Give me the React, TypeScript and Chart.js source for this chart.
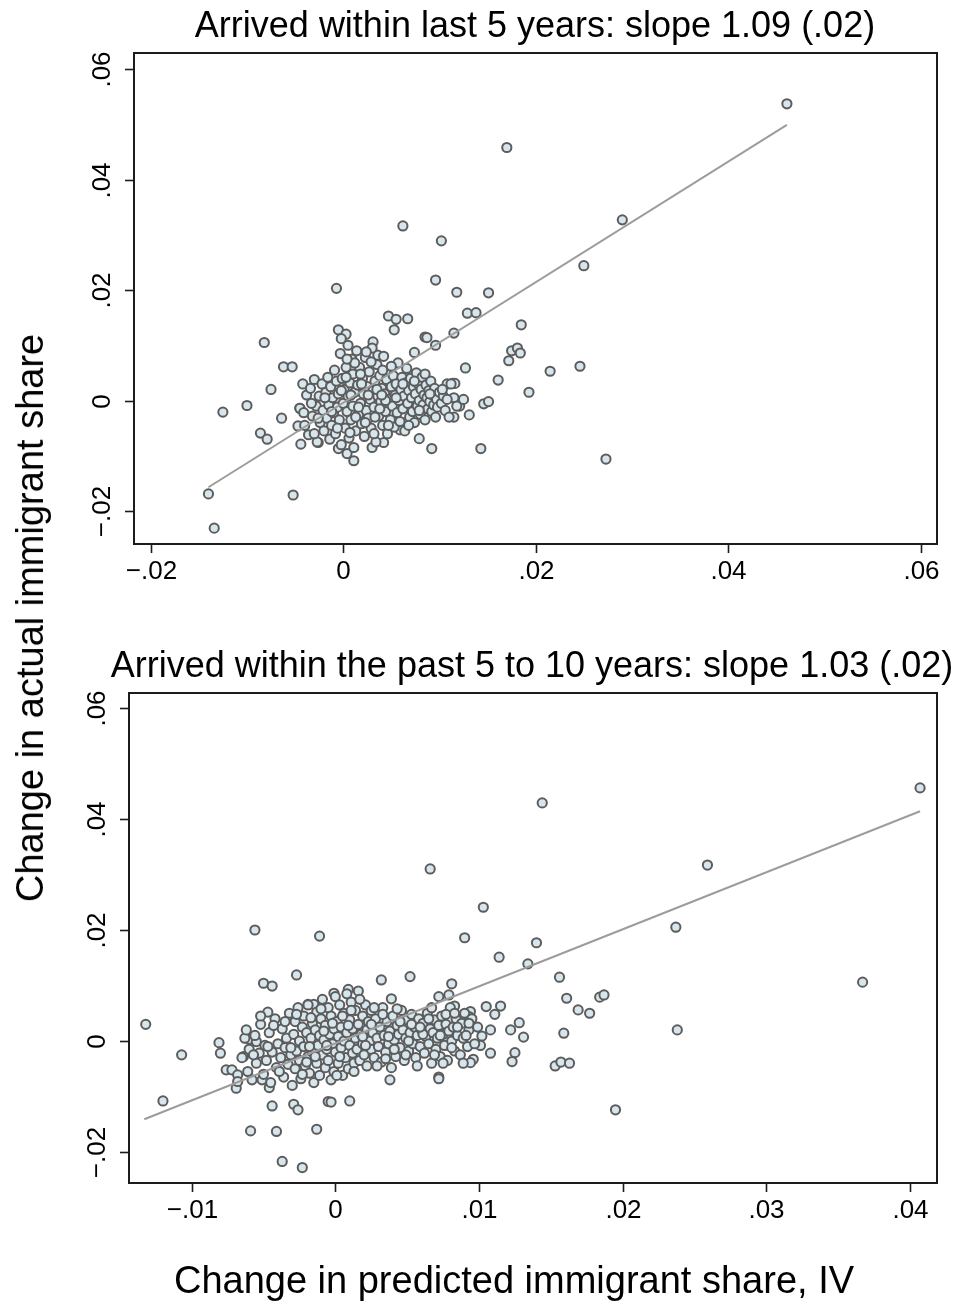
import React, { useEffect, useRef } from "react";
import { Chart, registerables } from "chart.js";
Chart.register(...registerables);

// ---------- DATA ----------
const recentTitle = "Arrived within last 5 years: slope 1.09 (.02)";
const earlierTitle = "Arrived within the past 5 to 10 years: slope 1.03 (.02)";
const yAxisTitle = "Change in actual immigrant share";
const xAxisTitle = "Change in predicted immigrant share, IV";

const recentXTicks = [-0.02, 0, 0.02, 0.04, 0.06];
const recentYTicks = [-0.02, 0, 0.02, 0.04, 0.06];
const earlierXTicks = [-0.01, 0, 0.01, 0.02, 0.03, 0.04];
const earlierYTicks = [-0.02, 0, 0.02, 0.04, 0.06];

const recentFitX = [-0.014, 0.0461];
const recentFitY = [-0.0157, 0.0499];
const earlierFitX = [-0.0133, 0.0407];
const earlierFitY = [-0.0141, 0.0414];

// Arrived within last 5 years: [predicted change, actual change]
const recentOutliers: [number, number][] = [
  [0.0461, 0.0537], [0.017, 0.0458], [0.029, 0.0327], [0.0062, 0.0316], [0.0102, 0.0289],
  [0.025, 0.0244], [0.0096, 0.0218], [-0.0007, 0.0203], [0.0118, 0.0196], [0.0151, 0.0195],
  [0.0129, 0.0158], [0.0138, 0.0159], [0.0185, 0.0137], [0.0047, 0.0153], [0.0055, 0.0147],
  [0.0067, 0.0148], [0.0053, 0.0128], [-0.0082, 0.0105], [-0.0005, 0.0128], [0.0003, 0.012],
  [-0.0002, 0.0112], [0.0031, 0.0106], [0.0036, 0.0082], [0.0115, 0.0122], [0.0085, 0.0115],
  [0.0087, 0.0114], [0.0096, 0.01], [0.0074, 0.0087], [0.0172, 0.0072], [0.0175, 0.009],
  [0.0181, 0.0095], [0.0184, 0.0086], [0.0127, 0.0059], [0.0114, 0.0031], [0.0116, 0.0031],
  [0.0161, 0.0037], [0.0246, 0.0062], [0.0215, 0.0053], [0.0193, 0.0015], [0.0121, -0.001],
  [0.0125, 0.0002], [0.0146, -0.0006], [0.0151, -0.0002], [0.0115, -0.003], [0.0131, -0.0026],
  [0.0143, -0.0087], [0.0092, -0.0087], [0.0079, -0.0069], [0.0059, -0.0053], [0.0273, -0.0106],
  [0.0011, -0.0109], [0.0004, -0.0096], [-0.0005, -0.0087], [0.003, -0.0085], [0.0042, -0.0076],
  [-0.0044, -0.0079], [-0.0026, -0.0076], [-0.0047, -0.0046], [-0.0045, -0.0014], [-0.0064, -0.0032],
  [-0.0062, 0.0061], [-0.0053, 0.0061], [-0.0075, 0.002], [-0.01, -0.0009], [-0.0125, -0.0021],
  [-0.0086, -0.0059], [-0.0079, -0.007], [-0.014, -0.0169], [-0.0134, -0.0231], [-0.0052, -0.0171],
];
const recentCluster: [number, number][] = [
  [-0.0045, -0.0014], [-0.0042, 0.003], [-0.004, -0.0045], [-0.0038, 0.001], [-0.0036, -0.0062],
  [-0.0034, 0.0022], [-0.0032, -0.0028], [-0.003, 0.0038], [-0.0028, -0.001], [-0.0027, -0.0075],
  [-0.0025, 0.0008], [-0.0024, -0.004], [-0.0022, 0.003], [-0.0021, -0.0018], [-0.002, -0.0055],
  [-0.0018, 0.0015], [-0.0017, -0.0032], [-0.0016, 0.0042], [-0.0015, -0.0008], [-0.0014, -0.007],
  [-0.0013, 0.0025], [-0.0012, -0.0045], [-0.0011, 0.0005], [-0.001, -0.0022], [-0.0009, 0.0055],
  [-0.0008, -0.006], [-0.0007, 0.0035], [-0.0006, -0.0012], [-0.0005, 0.0012], [-0.0004, -0.0035],
  [-0.0003, 0.0085], [-0.0002, -0.008], [-0.0001, 0.004], [0.0, -0.0005],
  [0.0001, 0.002], [0.0002, -0.005], [0.0003, 0.006], [0.0004, -0.002], [0.0005, 0.01],
  [0.0005, 0.0008], [0.0006, -0.0068], [0.0007, 0.0032], [0.0008, -0.0035], [0.0009, 0.0075],
  [0.001, -0.001], [0.001, 0.0048], [0.0011, -0.0085], [0.0012, 0.0015], [0.0013, -0.0055],
  [0.0014, 0.009], [0.0015, 0.0028], [0.0016, -0.0025], [0.0017, 0.006], [0.0018, -0.0005],
  [0.0019, -0.0042], [0.002, 0.004], [0.0021, 0.0012], [0.0022, -0.0065], [0.0023, 0.0078],
  [0.0024, -0.0018], [0.0025, 0.0025], [0.0026, -0.0032], [0.0027, 0.0052], [0.0028, 0.0002],
  [0.0029, -0.005], [0.003, 0.0095], [0.0031, 0.0018], [0.0032, -0.0012], [0.0033, 0.0035],
  [0.0034, -0.0075], [0.0035, 0.0065], [0.0036, 0.0008], [0.0037, -0.0028], [0.0038, 0.0045],
  [0.0039, -0.0002], [0.004, 0.0022], [0.0041, -0.0045], [0.0042, 0.008], [0.0043, 0.0012],
  [0.0044, -0.002], [0.0045, 0.0038], [0.0046, -0.006], [0.0047, 0.0002], [0.0048, 0.0055],
  [0.0049, -0.0035], [0.005, 0.0025],
  [0.0051, -0.001], [0.0052, 0.0045], [0.0053, -0.0048], [0.0054, 0.001], [0.0055, 0.003],
  [0.0056, -0.0022], [0.0057, 0.0068], [0.0058, 0.0], [0.0059, -0.0038], [0.006, 0.002],
  [0.0061, 0.0042], [0.0062, -0.0015], [0.0063, 0.0008], [0.0064, -0.0055], [0.0065, 0.0032],
  [0.0066, 0.0058], [0.0067, -0.0005], [0.0068, 0.0018], [0.0069, -0.003], [0.007, 0.004],
  [0.0071, 0.0005], [0.0072, -0.002], [0.0073, 0.0025], [0.0074, -0.004], [0.0075, 0.0012],
  [0.0076, 0.005], [0.0077, -0.001], [0.0078, 0.003], [0.0079, 0.0], [0.008, -0.0025],
  [0.0081, 0.002], [0.0082, 0.0042], [0.0083, -0.0008], [0.0084, 0.001], [0.0085, -0.0035],
  [0.0086, 0.0028], [0.0087, 0.0005], [0.0088, -0.0015], [0.0089, 0.0018], [0.009, -0.0002],
  [0.0091, 0.0035], [0.0092, -0.002], [0.0093, 0.001], [0.0094, -0.0008], [0.0095, 0.0022],
  [0.0097, 0.0002], [0.0098, -0.0012], [0.01, 0.0015], [0.0102, -0.0005], [0.0104, 0.0008],
  [0.0106, -0.0018], [0.0108, 0.003], [0.011, -0.003], [0.0112, 0.003], [0.0115, 0.0005],
  [0.0118, -0.001],
  [0.0003, 0.0042], [0.0007, -0.0058], [0.0012, 0.0068], [0.0016, -0.0012], [0.0019, 0.003],
  [0.0023, -0.004], [0.0026, 0.001], [0.0029, 0.007], [0.0032, -0.006], [0.0035, 0.002],
  [0.0038, -0.0015], [0.0041, 0.0055], [0.0044, 0.0], [0.0047, -0.0045], [0.005, 0.0062],
  [0.0013, -0.003], [0.0018, 0.0048], [0.0024, 0.0088], [0.0033, -0.003], [0.004, 0.001],
  [0.0008, 0.001], [0.0004, 0.0075], [-0.0002, 0.0018], [-0.0006, -0.005], [-0.0012, -0.002],
  [-0.0019, 0.0005], [-0.0026, -0.0032], [-0.0033, -0.0005], [-0.0041, -0.0022], [-0.003, -0.006],
  [0.0055, 0.0005], [0.0062, 0.003], [0.0068, -0.0045], [0.0074, 0.0035], [0.0079, -0.0018],
  [0.0085, 0.0048], [0.009, 0.0012], [0.0096, -0.003], [0.0103, 0.002], [0.0108, 0.0002],
];

// Arrived within the past 5 to 10 years: [predicted change, actual change]
const earlierOutliers: [number, number][] = [
  [0.0407, 0.0456], [0.0144, 0.0429], [0.0066, 0.031], [0.0259, 0.0317], [0.0103, 0.0241],
  [0.0237, 0.0205], [-0.0056, 0.02], [-0.0011, 0.0189], [0.009, 0.0186], [0.014, 0.0177],
  [0.0114, 0.0151], [0.0134, 0.0139], [0.0367, 0.0106], [0.0156, 0.0115], [0.0161, 0.0077],
  [0.0184, 0.0079], [0.0187, 0.0083], [0.0169, 0.0056], [0.0177, 0.005], [0.0238, 0.002],
  [0.0159, 0.0014], [0.0195, -0.0124], [0.0153, -0.0045], [0.0157, -0.0038], [0.0163, -0.004],
  [0.0105, 0.0062], [0.0115, 0.0063], [0.0111, 0.0048], [0.0122, 0.002], [0.0128, 0.0033],
  [0.0131, 0.0007], [0.0125, -0.0021], [0.0123, -0.0037], [0.0108, 0.002], [0.0102, 0.0009],
  [0.0101, -0.0008], [0.0108, -0.0022], [0.0094, 0.0053], [0.0093, 0.0044], [0.0096, -0.0033],
  [0.0094, -0.0039], [0.0072, -0.0065], [0.0072, -0.0068], [0.0038, -0.007], [0.0081, 0.0103],
  [0.0039, 0.0076], [0.0072, 0.008], [0.0079, 0.0083], [0.0083, 0.0063],
  [-0.005, 0.0104], [-0.0044, 0.0099], [-0.0027, 0.0119], [-0.0047, 0.0052], [-0.0132, 0.003],
  [-0.012, -0.0108], [-0.0107, -0.0025], [-0.0081, -0.0003], [-0.008, -0.0022], [-0.0076, -0.0052],
  [-0.0072, -0.0052], [-0.0068, -0.0061], [-0.0069, -0.0085], [-0.0068, -0.0073], [-0.006, 0.0003],
  [-0.0055, -0.0001], [-0.0064, -0.0028], [-0.0051, -0.007], [-0.0046, -0.0084], [-0.0044, -0.0117],
  [-0.0029, -0.0114], [-0.0026, -0.0124], [-0.0059, -0.0162], [-0.0041, -0.0163], [-0.0013, -0.0159],
  [-0.0037, -0.0217], [-0.0023, -0.0228], [-0.0005, -0.0109], [-0.0003, -0.011], [0.001, -0.0108],
  [0.0032, 0.011], [0.0052, 0.0116], [-0.0019, 0.0066], [-0.0015, 0.0066], [-0.0001, 0.0086],
  [0.0009, 0.0093],
];
const earlierCluster: [number, number][] = [
  [-0.0065, -0.003], [-0.0063, 0.0005], [-0.0061, -0.0055], [-0.006, -0.0015], [-0.0058, -0.007],
  [-0.0056, 0.001], [-0.0055, -0.004], [-0.0053, -0.0022], [-0.0052, 0.003], [-0.005, -0.006],
  [-0.0049, -0.0008], [-0.0048, -0.0035], [-0.0046, 0.0015], [-0.0045, -0.0075], [-0.0044, -0.002],
  [-0.0042, 0.004], [-0.0041, -0.0048], [-0.004, -0.0005], [-0.0038, -0.003], [-0.0037, 0.0022],
  [-0.0036, -0.0065], [-0.0035, -0.0012], [-0.0034, 0.0005], [-0.0033, -0.0042], [-0.0032, 0.005],
  [-0.0031, -0.0025], [-0.003, -0.008],
  [-0.0029, 0.0012], [-0.0028, -0.005], [-0.0028, 0.0035], [-0.0027, -0.0018], [-0.0026, 0.006],
  [-0.0025, -0.0035], [-0.0025, 0.0], [-0.0024, -0.0068], [-0.0023, 0.0025], [-0.0022, -0.001],
  [-0.0022, 0.0045], [-0.0021, -0.0045], [-0.002, 0.0015], [-0.0019, -0.0028], [-0.0019, 0.0065],
  [-0.0018, -0.0058], [-0.0017, 0.0005], [-0.0016, 0.0032], [-0.0016, -0.002], [-0.0015, -0.0075],
  [-0.0014, 0.002], [-0.0013, -0.004], [-0.0013, 0.0052], [-0.0012, -0.0008], [-0.0011, 0.001],
  [-0.0011, -0.0062], [-0.001, 0.004], [-0.0009, -0.0025], [-0.0009, 0.0075], [-0.0008, 0.0002],
  [-0.0007, -0.0048], [-0.0007, 0.0028], [-0.0006, -0.0015], [-0.0005, 0.006], [-0.0005, -0.0035],
  [-0.0004, 0.0012], [-0.0003, -0.007], [-0.0003, 0.0045], [-0.0002, -0.0005], [-0.0001, 0.0022],
  [-0.0001, -0.0055], [0.0, 0.008], [0.0, -0.002],
  [0.0001, 0.0035], [0.0002, -0.004], [0.0002, 0.0008], [0.0003, 0.0065], [0.0004, -0.0012],
  [0.0004, 0.0025], [0.0005, -0.0062], [0.0006, 0.005], [0.0006, 0.0], [0.0007, -0.003],
  [0.0008, 0.0085], [0.0008, 0.0015], [0.0009, -0.005], [0.001, 0.0038], [0.001, -0.0008],
  [0.0011, 0.007], [0.0012, -0.0022], [0.0012, 0.0022], [0.0013, -0.004], [0.0014, 0.0055],
  [0.0014, 0.0005], [0.0015, -0.0015], [0.0016, 0.009], [0.0016, 0.003], [0.0017, -0.0035],
  [0.0018, 0.0012], [0.0019, 0.0045], [0.0019, -0.0005], [0.002, -0.0025], [0.0021, 0.0065],
  [0.0022, 0.002], [0.0022, -0.0045], [0.0023, 0.0035], [0.0024, 0.0], [0.0025, -0.0015],
  [0.0025, 0.0055], [0.0026, 0.0015], [0.0027, -0.003], [0.0028, 0.004], [0.0029, 0.0005],
  [0.003, -0.001],
  [0.0031, 0.0025], [0.0032, -0.0038], [0.0033, 0.006], [0.0034, 0.001], [0.0035, -0.002],
  [0.0036, 0.0035], [0.0037, -0.0005], [0.0038, 0.0018], [0.0039, -0.0048], [0.004, 0.0045],
  [0.0041, 0.0002], [0.0042, -0.0028], [0.0043, 0.0028], [0.0044, 0.0012], [0.0045, -0.0012],
  [0.0046, 0.0055], [0.0047, 0.002], [0.0048, -0.0035], [0.0049, 0.0005], [0.005, 0.0038],
  [0.0051, -0.0018], [0.0052, 0.0015], [0.0053, 0.0048], [0.0054, -0.0005], [0.0055, 0.0025],
  [0.0056, -0.003], [0.0057, 0.001], [0.0058, 0.004], [0.0059, -0.001], [0.006, 0.002],
  [0.0061, 0.0032], [0.0062, -0.0022], [0.0063, 0.0008], [0.0064, 0.005], [0.0065, -0.0005],
  [0.0066, 0.0022], [0.0067, -0.004], [0.0068, 0.0015], [0.0069, 0.0038], [0.007, -0.0015],
  [0.0071, 0.0005], [0.0072, 0.0028], [0.0073, -0.0028], [0.0074, 0.0045], [0.0075, 0.0012],
  [0.0076, -0.0008], [0.0077, 0.003], [0.0078, -0.0035], [0.0079, 0.0018], [0.008, 0.006],
  [0.0081, 0.0], [0.0082, 0.0025], [0.0083, -0.0018], [0.0084, 0.004], [0.0085, 0.001],
  [0.0087, -0.0025], [0.0088, 0.0032], [0.0089, 0.0005], [0.009, 0.005], [0.0092, -0.001],
  [0.0093, 0.002], [0.0095, 0.004], [0.0097, -0.0005], [0.0099, 0.0025],
  [-0.0047, -0.001], [-0.0043, 0.0028], [-0.0039, -0.0055], [-0.0035, 0.0035], [-0.0031, -0.0012],
  [-0.0027, 0.0048], [-0.0023, -0.006], [-0.002, -0.0038], [-0.0017, 0.0042], [-0.0014, -0.0028],
  [-0.001, 0.0058], [-0.0006, -0.0008], [-0.0002, 0.0032], [0.0001, -0.0062], [0.0005, 0.0045],
  [0.0009, 0.0028], [0.0013, -0.0055], [0.0017, 0.0075], [0.0021, -0.0008], [0.0025, 0.003],
  [0.0029, -0.0045], [0.0033, 0.0048], [0.0037, 0.0008], [0.0041, -0.0015], [0.0045, 0.0035],
  [0.0049, -0.0025], [0.0053, 0.003], [0.0057, -0.0045], [0.0061, 0.0012], [0.0065, 0.004],
  [0.0069, -0.0025], [0.0073, 0.001], [0.0077, 0.0048], [0.0081, -0.0012], [0.0085, 0.0025],
  [0.0089, -0.004], [0.0093, 0.0032], [-0.0052, 0.0045], [-0.0057, -0.0025], [-0.0062, 0.002],
  [0.0011, 0.0055], [0.0003, -0.0028], [-0.0008, 0.0018], [-0.0018, -0.001], [0.0019, 0.0008],
  [0.0027, 0.006], [0.0035, -0.0032], [0.0043, 0.0058], [0.0051, 0.0], [0.0059, 0.0025],
  [0.0067, 0.006], [0.0075, -0.004], [0.0083, 0.005], [0.0091, 0.001],
];

// ---------- STYLE ----------
const FONT = "'Liberation Sans', Arial, Helvetica, sans-serif";
const MARKER_FILL = "#d6e6ec";
const MARKER_EDGE = "#5c5c5c";
const FIT_COLOR = "#9c9c9c";
const FRAME_COLOR = "#1c1c1c";

function fmtTick(v: number): string {
  if (Math.abs(v) < 1e-12) return "0";
  const s = Math.abs(v).toFixed(2).replace(/^0/, "");
  return (v < 0 ? "\u2212" : "") + s;
}

type PanelProps = {
  top: number;
  height: number;
  area: { left: number; right: number; top: number; bottom: number };
  points: [number, number][];
  fitX: number[];
  fitY: number[];
  xRange: [number, number];
  yRange: [number, number];
  xTicks: number[];
  yTicks: number[];
};

function Panel(p: PanelProps) {
  const ref = useRef<HTMLCanvasElement | null>(null);
  useEffect(() => {
    if (!ref.current) return;
    const framePlugin = {
      id: "stataFrame",
      afterDraw(chart: any) {
        const ctx = chart.ctx as CanvasRenderingContext2D;
        const a = chart.chartArea;
        const xs = chart.scales.x;
        const ys = chart.scales.y;
        ctx.save();
        ctx.strokeStyle = FRAME_COLOR;
        ctx.lineWidth = 2;
        ctx.strokeRect(a.left, a.top, a.right - a.left, a.bottom - a.top);
        ctx.fillStyle = "#000";
        ctx.font = `26px ${FONT}`;
        ctx.lineWidth = 1.6;
        // x ticks
        ctx.textAlign = "center";
        ctx.textBaseline = "middle";
        p.xTicks.forEach((t) => {
          const px = Math.round(xs.getPixelForValue(t)) + 0.5;
          ctx.beginPath();
          ctx.moveTo(px, a.bottom);
          ctx.lineTo(px, a.bottom + 9);
          ctx.stroke();
          ctx.fillText(fmtTick(t), px, a.bottom + 28);
        });
        // y ticks (labels rotated)
        p.yTicks.forEach((t) => {
          const py = Math.round(ys.getPixelForValue(t)) + 0.5;
          ctx.beginPath();
          ctx.moveTo(a.left, py);
          ctx.lineTo(a.left - 9, py);
          ctx.stroke();
          ctx.save();
          ctx.translate(a.left - 31, py);
          ctx.rotate(-Math.PI / 2);
          ctx.fillText(fmtTick(t), 0, 0);
          ctx.restore();
        });
        ctx.restore();
      },
    };
    const chart = new Chart(ref.current, {
      type: "scatter",
      data: {
        datasets: [
          {
            type: "line",
            data: p.fitX.map((x, i) => ({ x, y: p.fitY[i] })),
            borderColor: FIT_COLOR,
            borderWidth: 2,
            pointRadius: 0,
            showLine: true,
            fill: false,
            order: 0,
          } as any,
          {
            data: p.points.map(([x, y]) => ({ x, y })),
            backgroundColor: MARKER_FILL,
            borderColor: MARKER_EDGE,
            borderWidth: 2,
            pointRadius: 4.6,
            order: 1,
          },
        ],
      },
      options: {
        responsive: false,
        animation: false,
        devicePixelRatio: 1,
        layout: {
          padding: {
            left: p.area.left,
            right: 961 - p.area.right,
            top: p.area.top,
            bottom: p.height - p.area.bottom,
          },
        },
        plugins: { legend: { display: false }, tooltip: { enabled: false }, title: { display: false } },
        scales: {
          x: { type: "linear", display: false, min: p.xRange[0], max: p.xRange[1] },
          y: { type: "linear", display: false, min: p.yRange[0], max: p.yRange[1] },
        },
      },
      plugins: [framePlugin],
    });
    return () => chart.destroy();
  }, []);
  return (
    <canvas
      ref={ref}
      width={961}
      height={p.height}
      style={{ position: "absolute", left: 0, top: p.top, width: 961, height: p.height }}
    />
  );
}

const textStyle: React.CSSProperties = {
  position: "absolute",
  fontFamily: FONT,
  color: "#000",
  lineHeight: 1,
  whiteSpace: "nowrap",
  transform: "translate(-50%, -50%)",
};

export default function App() {
  return (
    <div style={{ position: "absolute", left: 0, top: 0, width: 961, height: 1302, background: "#fff", overflow: "hidden" }}>
      <Panel
        top={0}
        height={620}
        area={{ left: 134, right: 937, top: 53, bottom: 544 }}
        points={[...recentOutliers, ...recentCluster]}
        fitX={recentFitX}
        fitY={recentFitY}
        xRange={[-0.021735, 0.061694]}
        yRange={[-0.02597, 0.0629]}
        xTicks={recentXTicks}
        yTicks={recentYTicks}
      />
      <Panel
        top={620}
        height={682}
        area={{ left: 129, right: 937, top: 73, bottom: 563 }}
        points={[...earlierOutliers, ...earlierCluster]}
        fitX={earlierFitX}
        fitY={earlierFitY}
        xRange={[-0.014364, 0.041879]}
        yRange={[-0.025586, 0.0627]}
        xTicks={earlierXTicks}
        yTicks={earlierYTicks}
      />
      <div style={{ ...textStyle, left: 535, top: 25, fontSize: 36 }}>{recentTitle}</div>
      <div style={{ ...textStyle, left: 532, top: 665, fontSize: 36 }}>{earlierTitle}</div>
      <div style={{ ...textStyle, left: 514, top: 1280, fontSize: 38 }}>{xAxisTitle}</div>
      <div style={{ ...textStyle, left: 30, top: 618, fontSize: 38, transform: "translate(-50%, -50%) rotate(-90deg)" }}>
        {yAxisTitle}
      </div>
    </div>
  );
}
